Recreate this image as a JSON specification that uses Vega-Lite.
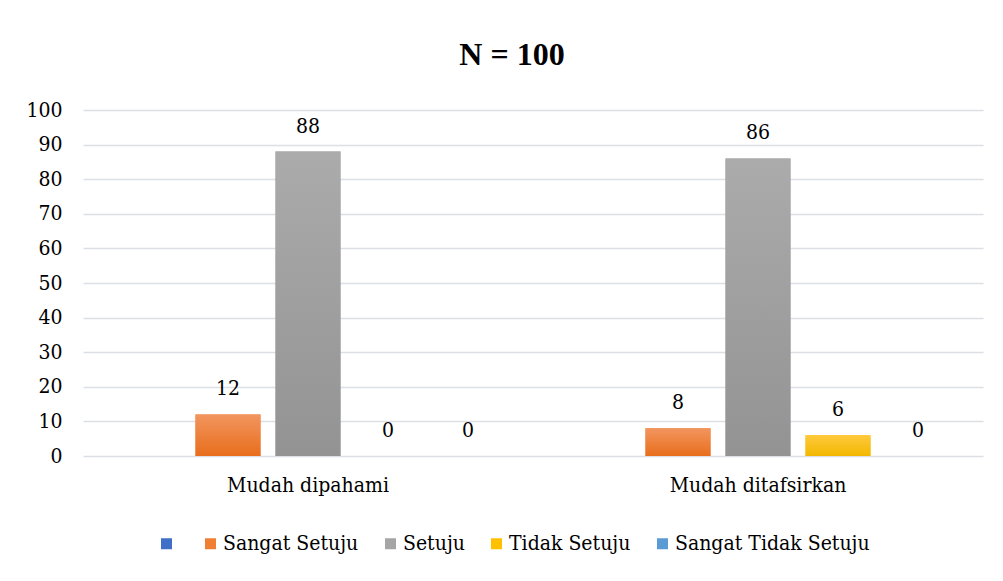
{
  "$schema": "https://vega.github.io/schema/vega-lite/v6.json",
  "autosize": "none",
  "width": 900,
  "height": 346,
  "padding": {"left": 83, "top": 110, "right": 20, "bottom": 125},
  "background": "white",
  "config": {
    "view": {"stroke": null}
  },
  "title": {
    "text": "N = 100",
    "font": "Liberation Serif",
    "fontSize": 32,
    "fontWeight": "bold",
    "color": "black",
    "anchor": "middle",
    "offset": 27,
    "dx": -21
  },
  "data": {
    "values": [
      {"aspect": "Mudah dipahami", "series": "", "value": null},
      {"aspect": "Mudah dipahami", "series": "Sangat Setuju", "value": 12},
      {"aspect": "Mudah dipahami", "series": "Setuju", "value": 88},
      {"aspect": "Mudah dipahami", "series": "Tidak Setuju", "value": 0},
      {"aspect": "Mudah dipahami", "series": "Sangat Tidak Setuju", "value": 0},
      {"aspect": "Mudah ditafsirkan", "series": "", "value": null},
      {"aspect": "Mudah ditafsirkan", "series": "Sangat Setuju", "value": 8},
      {"aspect": "Mudah ditafsirkan", "series": "Setuju", "value": 86},
      {"aspect": "Mudah ditafsirkan", "series": "Tidak Setuju", "value": 6},
      {"aspect": "Mudah ditafsirkan", "series": "Sangat Tidak Setuju", "value": 0}
    ]
  },
  "encoding": {
    "x": {
      "field": "aspect",
      "type": "nominal",
      "sort": ["Mudah dipahami", "Mudah ditafsirkan"],
      "scale": {"paddingInner": 0, "paddingOuter": 0},
      "axis": {
        "title": null,
        "labelAngle": 0,
        "labelFont": "DejaVu Serif Condensed",
        "labelFontSize": 21,
        "labelColor": "black",
        "labelPadding": 18,
        "ticks": false,
        "domain": false,
        "grid": false
      }
    },
    "xOffset": {
      "field": "series",
      "type": "nominal",
      "scale": {
        "domain": ["", "Sangat Setuju", "Setuju", "Tidak Setuju", "Sangat Tidak Setuju"],
        "paddingInner": 0.1875,
        "paddingOuter": 0.406
      }
    },
    "y": {
      "field": "value",
      "type": "quantitative",
      "scale": {"domain": [0, 100], "nice": false},
      "axis": {
        "title": null,
        "values": [0, 10, 20, 30, 40, 50, 60, 70, 80, 90, 100],
        "labelFont": "DejaVu Serif Condensed",
        "labelFontSize": 21,
        "labelColor": "black",
        "labelPadding": 21,
        "ticks": false,
        "domain": false,
        "grid": true,
        "gridColor": "#DCDFE4",
        "gridWidth": 1.5
      }
    }
  },
  "layer": [
    {
      "mark": {"type": "bar"},
      "encoding": {
        "color": {
          "field": "series",
          "type": "nominal",
          "scale": {
            "domain": ["", "Sangat Setuju", "Setuju", "Tidak Setuju", "Sangat Tidak Setuju"],
            "range": ["#3F6FC6", "#F07F34", "#A5A5A5", "#FFC000", "#5B9BD5"]
          },
          "legend": {
            "title": null,
            "orient": "none",
            "legendX": 73,
            "legendY": 423,
            "direction": "horizontal",
            "symbolType": "square",
            "symbolSize": 121,
            "symbolStrokeWidth": 0,
            "labelFont": "DejaVu Serif Condensed",
            "labelFontSize": 21,
            "labelColor": "black",
            "labelOffset": 2,
            "columnPadding": 21,
            "labelLimit": 400
          }
        }
      }
    },
    {
      "mark": {"type": "bar"},
      "encoding": {
        "fill": {
          "condition": [
            {
              "test": "datum.series === 'Sangat Setuju'",
              "value": {
                "gradient": "linear", "x1": 0, "y1": 0, "x2": 0, "y2": 1,
                "stops": [{"offset": 0, "color": "#F2955F"}, {"offset": 1, "color": "#E86E1C"}]
              }
            },
            {
              "test": "datum.series === 'Setuju'",
              "value": {
                "gradient": "linear", "x1": 0, "y1": 0, "x2": 0, "y2": 1,
                "stops": [{"offset": 0, "color": "#ABABAB"}, {"offset": 1, "color": "#939393"}]
              }
            },
            {
              "test": "datum.series === 'Tidak Setuju'",
              "value": {
                "gradient": "linear", "x1": 0, "y1": 0, "x2": 0, "y2": 1,
                "stops": [{"offset": 0, "color": "#FFC93C"}, {"offset": 1, "color": "#F2B800"}]
              }
            }
          ],
          "value": "#5B9BD5"
        }
      }
    },
    {
      "mark": {
        "type": "text",
        "font": "DejaVu Serif Condensed",
        "baseline": "alphabetic",
        "dy": -19,
        "fontSize": 21,
        "color": "black"
      },
      "encoding": {
        "text": {"field": "value", "type": "quantitative"}
      }
    }
  ]
}
